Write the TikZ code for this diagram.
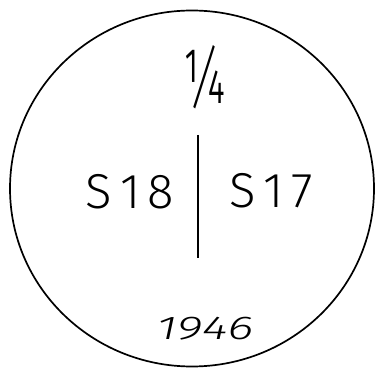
\documentclass[tikz,border=0pt]{standalone}
\usepackage{fontspec}
\setmainfont{Fira Sans}[UprightFont=* Light, ItalicFont=* Light Italic]
\begin{document}
\begin{tikzpicture}[x=1pt,y=-1pt]
\tikzset{
  lbl/.style={inner sep=0pt, text=black},
  big/.style={font=\fontsize{49}{49}\selectfont},
  rim/.style={draw=black, line width=1.7pt},
  divider/.style={draw=black, line width=1.7pt}
}
\useasboundingbox (0,0) rectangle (380,371);
\fill[white] (0,0) rectangle (380,371);
\draw[rim] (192,188.5) ellipse [x radius=182pt, y radius=178pt];
\coordinate (ltop) at (198,135);
\coordinate (lbot) at (198,258);
\draw[divider] (ltop) -- (lbot);
\node[lbl, big] (s18) at (130,192) {S\kern8pt 1\kern7pt 8};
\node[lbl, big] (s17) at (271,191) {{\spaceskip=8pt S 1\kern7pt 7}};
\node[lbl] (quarter) at (204,77) {\resizebox{44pt}{58pt}{\fontsize{40}{40}\selectfont ¼}};
\node[lbl, font=\fontsize{33}{33}\selectfont\itshape] (year) at (205,329) {\scalebox{1.5}[1]{1946}};
\end{tikzpicture}
\end{document}
